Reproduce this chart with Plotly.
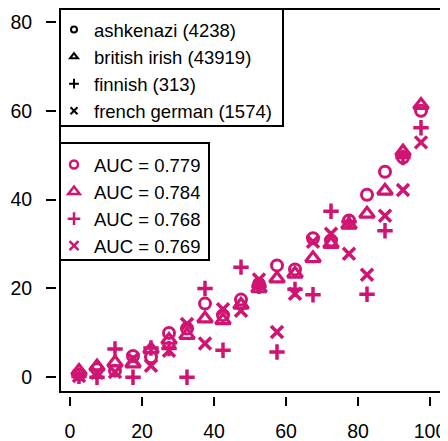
import plotly.graph_objects as go

# ---- data ----
x_bins = [2.5, 7.5, 12.5, 17.5, 22.5, 27.5, 32.5, 37.5, 42.5, 47.5,
          52.5, 57.5, 62.5, 67.5, 72.5, 77.5, 82.5, 87.5, 92.5, 97.5]

ashkenazi = [0.6, 1.8, 1.5, 4.8, 4.5, 10.0, 11.0, 16.6, 14.0, 17.5,
             21.0, 25.2, 24.3, 31.3, 30.8, 35.3, 41.1, 46.3, 49.5, 60.0]
british_irish = [1.4, 2.4, 3.3, 3.1, 6.3, 8.4, 9.5, 13.2, 12.8, 16.3,
                 20.0, 22.2, 23.3, 26.8, 30.0, 34.3, 36.8, 42.0, 50.8, 61.3]
finnish = [0.2, 0.0, 6.4, 0.0, 6.6, 6.5, 0.0, 20.0, 6.1, 24.8,
           20.5, 5.7, 19.8, 18.6, 37.4, 35.0, 18.7, 33.0, 49.5, 56.2]
french_german = [0.3, 1.0, 1.2, 4.2, 2.6, 6.0, 12.0, 7.6, 15.3, 15.0,
                 22.0, 10.2, 18.8, 30.5, 32.3, 27.8, 23.1, 36.4, 42.2, 52.9]

group_labels = ["ashkenazi (4238)", "british irish (43919)", "finnish (313)", "french german (1574)"]
auc_labels = ["AUC = 0.779", "AUC = 0.784", "AUC = 0.768", "AUC = 0.769"]
series = [ashkenazi, british_irish, finnish, french_german]

x_ticks = [0, 20, 40, 60, 80, 100]
y_ticks = [0, 20, 40, 60, 80]

# ---- styles ----
MAG = "#D01472"
FONT = "Liberation Sans, Arial, Helvetica, sans-serif"
symbols = ["circle-open", "triangle-up-open", "cross-thin-open", "x-thin-open"]
data_sizes = [11, 13, 11, 12]
data_lw = [3, 3.2, 3.5, 3.5]
leg1_sizes = [6, 7, 7, 7]
leg2_sizes = [8, 10, 9, 9]

fig = go.Figure()

for i, ys in enumerate(series):
    fig.add_trace(go.Scatter(
        x=x_bins, y=ys, mode="markers", showlegend=False,
        marker=dict(symbol=symbols[i], size=data_sizes[i], color=MAG,
                    line=dict(color=MAG, width=data_lw[i])),
    ))

# legend 1: black symbols with group names
for i, name in enumerate(group_labels):
    fig.add_trace(go.Scatter(
        x=[None], y=[None], mode="markers", name=name, legend="legend",
        marker=dict(symbol=symbols[i], size=leg1_sizes[i], color="black",
                    line=dict(color="black", width=2)),
    ))

# legend 2: magenta symbols with AUC values
for i, name in enumerate(auc_labels):
    fig.add_trace(go.Scatter(
        x=[None], y=[None], mode="markers", name=name, legend="legend2",
        marker=dict(symbol=symbols[i], size=leg2_sizes[i], color=MAG,
                    line=dict(color=MAG, width=2.5)),
    ))

# The page body adds an 8px offset, so the figure is 8px smaller and all
# layout positions below are given in page pixels, then converted.
OFF = 8
W, H = 448 - OFF, 441 - OFF
L, R, T, B = 57, 447, 8, 396          # page pixels of the plot area
pw, ph = R - L, B - T

def px_x(p):
    return (p - L) / pw

def px_y(p):
    return (B - p) / ph

def frame(x0, x1, y0, y1, fill=None):
    return dict(type="rect", xref="paper", yref="paper",
                x0=px_x(x0), x1=px_x(x1), y0=px_y(y1), y1=px_y(y0),
                line=dict(color="black", width=2),
                fillcolor=fill if fill else "rgba(0,0,0,0)", layer="above")

legend_font = dict(family=FONT, size=18.5, color="black")

fig.update_layout(
    width=W, height=H,
    margin=dict(l=L - OFF, r=W - (R - OFF), t=T - OFF, b=H - (B - OFF),
                pad=0, autoexpand=False),
    paper_bgcolor="white", plot_bgcolor="white",
    font=dict(family=FONT, size=19.5, color="black"),
    xaxis=dict(range=[(L - 70) / 3.6, (R - 70) / 3.6], tickvals=x_ticks,
               ticks="outside", ticklen=9, tickwidth=2, tickcolor="black",
               showgrid=False, zeroline=False, showline=False, automargin=False,
               ticklabelstandoff=9, tickfont=dict(size=19.5)),
    yaxis=dict(range=[(377.3 - B) / 4.441, (377.3 - T) / 4.441], tickvals=y_ticks,
               ticks="outside", ticklen=10, tickwidth=2, tickcolor="black",
               showgrid=False, zeroline=False, showline=False, automargin=False,
               ticklabelstandoff=10, tickfont=dict(size=19.5)),
    legend=dict(x=px_x(54), y=px_y(11), xanchor="left", yanchor="top",
                bgcolor="rgba(0,0,0,0)", borderwidth=0,
                font=legend_font, tracegroupgap=0),
    legend2=dict(x=px_x(54), y=px_y(146), xanchor="left", yanchor="top",
                 bgcolor="rgba(0,0,0,0)", borderwidth=0,
                 font=legend_font, tracegroupgap=0),
    shapes=[
        frame(60, 443.5, 9, 392),
        frame(60, 283, 9, 126, fill="white"),
        frame(60, 209, 143, 260, fill="white"),
    ],
)

fig.write_html("out.html")
